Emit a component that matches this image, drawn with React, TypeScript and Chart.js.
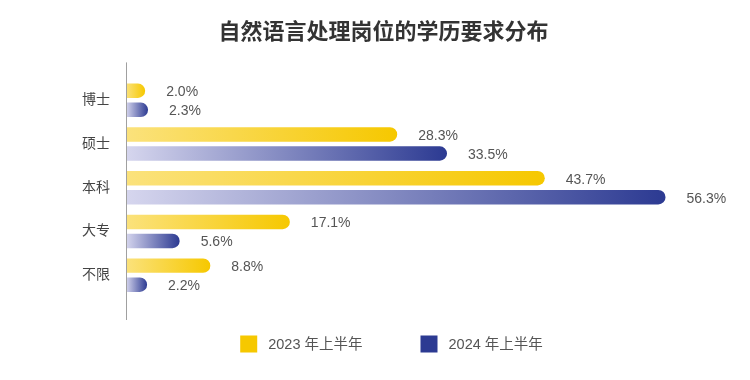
import React, { useEffect, useRef } from "react";
import { Chart, registerables } from "chart.js";

Chart.register(...registerables);

const TITLE = "自然语言处理岗位的学历要求分布";
const CATEGORIES = ["博士", "硕士", "本科", "大专", "不限"];
const SERIES_NAMES = ["2023 年上半年", "2024 年上半年"];
const VALUES_2023 = [2.0, 28.3, 43.7, 17.1, 8.8];
const VALUES_2024 = [2.3, 33.5, 56.3, 5.6, 2.2];
const X_MAX = 60;

const FONT = "'Liberation Sans', 'Noto Sans CJK SC', sans-serif";
const YELLOW = ["#fbe27c", "#f6c800"];
const BLUE = ["#d6d6ee", "#2c3a92"];

function gradientFor(colors: string[]) {
  return (ctx: any) => {
    const chart = ctx.chart;
    const xs = chart.scales && chart.scales.x;
    if (!xs || ctx.type !== "data") return colors[1];
    const v = ctx.raw as number;
    const x0 = xs.getPixelForValue(0);
    const x1 = xs.getPixelForValue(v);
    if (!isFinite(x0) || !isFinite(x1) || x1 - x0 < 1) return colors[1];
    const g = chart.ctx.createLinearGradient(x0, 0, x1, 0);
    g.addColorStop(0, colors[0]);
    g.addColorStop(1, colors[1]);
    return g;
  };
}

const extrasPlugin = {
  id: "extras",
  afterDatasetsDraw(chart: any) {
    const { ctx, chartArea } = chart;
    ctx.save();
    // axis line
    ctx.strokeStyle = "#a0a0a0";
    ctx.lineWidth = 1;
    ctx.beginPath();
    ctx.moveTo(Math.round(chartArea.left) + 0.5, chartArea.top - 16);
    ctx.lineTo(Math.round(chartArea.left) + 0.5, chartArea.bottom + 23);
    ctx.stroke();
    // value labels
    ctx.font = `14px ${FONT}`;
    ctx.fillStyle = "#555555";
    ctx.textBaseline = "middle";
    ctx.textAlign = "left";
    chart.data.datasets.forEach((ds: any, di: number) => {
      const meta = chart.getDatasetMeta(di);
      meta.data.forEach((el: any, i: number) => {
        const v = ds.data[i] as number;
        ctx.fillText(v.toFixed(1) + "%", el.x + 21, el.y + 1.5);
      });
    });
    // legend
    const items = [
      { label: SERIES_NAMES[0], color: YELLOW[1] },
      { label: SERIES_NAMES[1], color: BLUE[1] },
    ];
    ctx.font = `14.5px ${FONT}`;
    const box = 17;
    const gap = 11;
    const itemGap = 58;
    const widths = items.map((it) => box + gap + ctx.measureText(it.label).width);
    const total = widths[0] + itemGap + widths[1];
    const cx = (chartArea.left + chartArea.right) / 2 - 22;
    let x = cx - total / 2;
    const cy = chartArea.bottom + 47;
    items.forEach((it, i) => {
      ctx.fillStyle = it.color;
      ctx.fillRect(x, cy - box / 2, box, box);
      ctx.fillStyle = "#555555";
      ctx.fillText(it.label, x + box + gap, cy + 1);
      x += widths[i] + itemGap;
    });
    ctx.restore();
  },
};

export default function App() {
  const ref = useRef<HTMLCanvasElement | null>(null);
  useEffect(() => {
    if (!ref.current) return;
    const chart = new Chart(ref.current, {
      type: "bar",
      data: {
        labels: CATEGORIES,
        datasets: [
          {
            label: SERIES_NAMES[0],
            data: VALUES_2023,
            backgroundColor: gradientFor(YELLOW),
            borderRadius: { topLeft: 0, bottomLeft: 0, topRight: 8, bottomRight: 8 },
            borderSkipped: false,
            categoryPercentage: 0.87,
            barPercentage: 0.76,
          },
          {
            label: SERIES_NAMES[1],
            data: VALUES_2024,
            backgroundColor: gradientFor(BLUE),
            borderRadius: { topLeft: 0, bottomLeft: 0, topRight: 8, bottomRight: 8 },
            borderSkipped: false,
            categoryPercentage: 0.87,
            barPercentage: 0.76,
          },
        ],
      },
      options: {
        indexAxis: "y",
        animation: false,
        responsive: true,
        maintainAspectRatio: false,
        layout: { padding: { left: 66, right: 49, top: 0, bottom: 83 } },
        plugins: {
          legend: { display: false },
          tooltip: { enabled: false },
          title: {
            display: true,
            text: TITLE,
            color: "#333333",
            font: { family: FONT, size: 22, weight: "bold" },
            padding: { top: 20, bottom: 32 },
          },
        },
        scales: {
          x: {
            display: false,
            min: 0,
            max: X_MAX,
          },
          y: {
            grid: { display: false, drawTicks: false },
            border: { display: false },
            ticks: {
              color: "#444444",
              font: { family: FONT, size: 14 },
              padding: 16,
            },
          },
        },
      },
      plugins: [extrasPlugin],
    });
    return () => chart.destroy();
  }, []);
  return (
    <div style={{ position: "fixed", left: 0, top: 0, width: 750, height: 380, background: "#ffffff" }}>
      <canvas ref={ref} />
    </div>
  );
}
